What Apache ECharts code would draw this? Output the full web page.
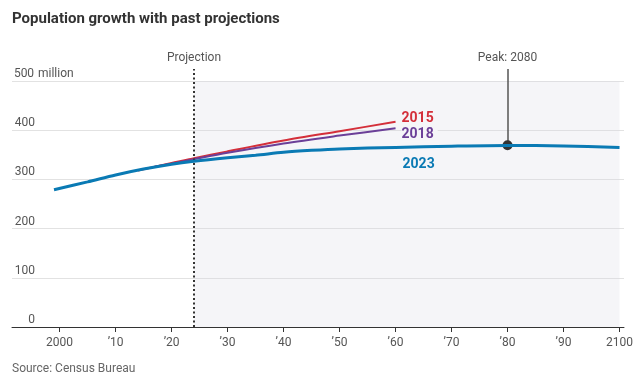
<!DOCTYPE html>
<html>
<head>
<meta charset="utf-8">
<script src="https://cdn.jsdelivr.net/npm/echarts@6/dist/echarts.min.js"></script>
<style>html,body{margin:0;padding:0;background:#fff}#c{width:636px;height:388px}</style>
</head>
<body>
<div id="c"></div>
<script>
// Data
const years2023 = [1999, 2005, 2010, 2015, 2020, 2024, 2030, 2035, 2040, 2045, 2050, 2060, 2070, 2080, 2090, 2100];
const pop2023   = [279,  295,  309,  321,  331,  337,  344,  349,  355,  359,  362,  365,  367.5, 369, 368, 365];
const years2015 = [2014, 2020, 2024, 2030, 2040, 2050, 2060];
const pop2015   = [318,  333.5, 343, 357, 379, 398, 417];
const years2018 = [2017, 2020, 2024, 2030, 2040, 2050, 2060];
const pop2018   = [325.5, 332, 341, 354, 373, 389, 404];
const xTickValues = [2000, 2010, 2020, 2030, 2040, 2050, 2060, 2070, 2080, 2090, 2100];
const xTickLabels = ['2000', '\u201910', '\u201920', '\u201930', '\u201940', '\u201950', '\u201960', '\u201970', '\u201980', '\u201990', '2100'];
const projectionYear = 2024;
const peakYear = 2080;
const peakValue = 369;
const annotationTop = 524; // value at which the annotation leader lines end (above the 500 line)

const FONT = 'Roboto, "Noto Sans", sans-serif';
const zip = (xs, ys) => xs.map((x, i) => [x, ys[i]]);
const X_MIN = 1991.5, X_MAX = 2100.8;

const chart = echarts.init(document.getElementById('c'), null, {renderer: 'canvas'});
chart.setOption({
  animation: false,
  textStyle: {fontFamily: FONT},
  title: [{
    text: 'Population growth with past projections',
    left: 12, top: 12, padding: 0,
    textStyle: {fontFamily: FONT, fontSize: 15, fontWeight: 'bold', color: '#333'}
  }, {
    text: 'Source: Census Bureau',
    left: 12, top: 363, padding: 0,
    textStyle: {fontFamily: FONT, fontSize: 12, fontWeight: 'normal', color: '#666'}
  }],
  grid: [
    {left: 12, right: 12, top: 81, bottom: 61, containLabel: false},
    {left: 12, right: 12, top: 69, bottom: 61, containLabel: false}
  ],
  xAxis: [{
    type: 'value', min: X_MIN, max: X_MAX, gridIndex: 0,
    splitLine: {show: false},
    axisLine: {show: true, onZero: false, lineStyle: {color: '#333', width: 1}},
    axisTick: {show: true, length: 5, customValues: xTickValues, lineStyle: {color: '#333'}},
    axisLabel: {
      customValues: xTickValues, margin: 10, fontSize: 12, color: '#555', fontFamily: FONT,
      formatter: v => xTickLabels[xTickValues.indexOf(Math.round(v))] || ''
    }
  }, {
    type: 'value', min: X_MIN, max: X_MAX, gridIndex: 1, show: false
  }],
  yAxis: [{
    type: 'value', min: 0, max: 500, interval: 100, gridIndex: 0,
    axisLine: {show: false}, axisTick: {show: false},
    splitLine: {lineStyle: {color: '#e2e2e2', width: 1}},
    axisLabel: {
      inside: true, margin: 1, align: 'left', verticalAlign: 'bottom',
      formatter: v => v === 500 ? '{n|500}{m|million}' : '{n|' + v + '}',
      rich: {
        n: {width: 22, align: 'right', fontSize: 12, color: '#555', lineHeight: 14, fontFamily: FONT},
        m: {fontSize: 12, color: '#555', lineHeight: 14, fontFamily: FONT, padding: [0, 0, 0, 3]}
      }
    }
  }, {
    type: 'value', min: 0, max: annotationTop, gridIndex: 1, show: false
  }],
  series: [{
    name: '2015', type: 'line', data: zip(years2015, pop2015), smooth: 0.3,
    symbol: 'none', lineStyle: {color: '#d42f3a', width: 2}, z: 3,
    endLabel: {show: true, formatter: '2015', distance: 6, offset: [0, -3],
      color: '#d42f3a', fontSize: 14, fontWeight: 'bold', fontFamily: FONT}
  }, {
    name: '2018', type: 'line', data: zip(years2018, pop2018), smooth: 0.3,
    symbol: 'none', lineStyle: {color: '#6b3f98', width: 2}, z: 4,
    endLabel: {show: true, formatter: '2018', distance: 6, offset: [0, 6],
      color: '#6b3f98', fontSize: 14, fontWeight: 'bold', fontFamily: FONT,
      backgroundColor: '#f5f5f8', padding: [0, 4, 0, 0]}
  }, {
    name: '2023', type: 'line', data: zip(years2023, pop2023), smooth: 0.3,
    symbol: 'none', lineStyle: {color: '#0a7ab4', width: 3}, z: 5,
    markArea: {
      silent: true,
      itemStyle: {color: 'rgba(215,215,228,0.26)'},
      data: [[{coord: [projectionYear, 0]}, {coord: [2100, 500]}]]
    },
    markPoint: {
      silent: true,
      data: [
        {coord: [2060, 365], symbol: 'circle', symbolSize: 0,
          label: {show: true, formatter: '2023', position: 'inside', align: 'left', offset: [7, 17],
            color: '#0a7ab4', fontSize: 14, fontWeight: 'bold', fontFamily: FONT}}
      ]
    }
  }, {
    name: 'annotations', type: 'line', xAxisIndex: 1, yAxisIndex: 1, data: [], z: 6,
    markLine: {
      silent: true, symbol: 'none', animation: false,
      data: [
        [{coord: [projectionYear, 0], lineStyle: {color: '#333', width: 2, type: [2, 2.5]},
          label: {show: true, position: 'end', formatter: 'Projection', distance: 5, color: '#555', fontSize: 12, fontFamily: FONT}},
         {coord: [projectionYear, annotationTop]}],
        [{coord: [peakYear, peakValue], lineStyle: {color: '#555', width: 1.5, type: 'solid'},
          label: {show: true, position: 'end', formatter: 'Peak: ' + peakYear, distance: 5, color: '#555', fontSize: 12, fontFamily: FONT}},
         {coord: [peakYear, annotationTop]}]
      ]
    },
    markPoint: {
      silent: true,
      data: [
        {coord: [peakYear, peakValue], symbol: 'circle', symbolSize: 10, itemStyle: {color: '#333'}, label: {show: false}}
      ]
    }
  }]
});
</script>
</body>
</html>
